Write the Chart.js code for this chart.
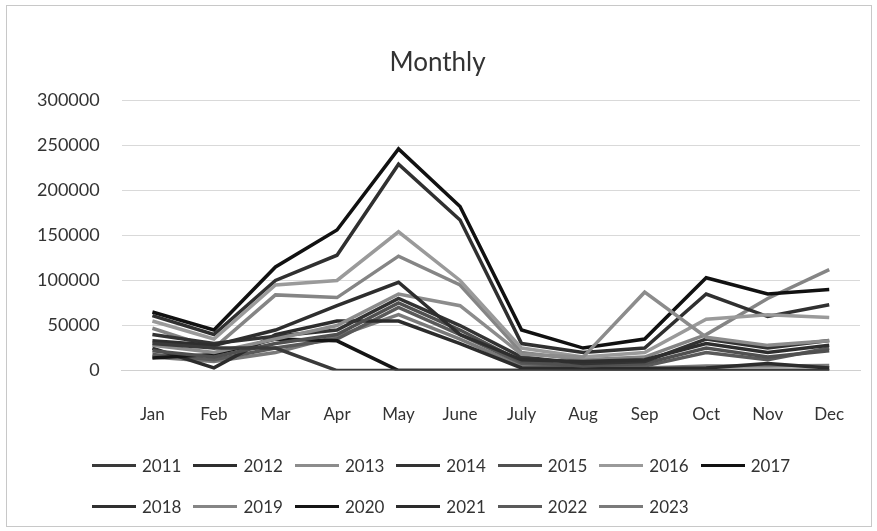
<!DOCTYPE html>
<html>
<head>
<meta charset="utf-8">
<script src="https://cdn.jsdelivr.net/npm/chart.js@4/dist/chart.umd.min.js"></script>
<style>
  html, body { margin: 0; padding: 0; background: #fff; }
  #wrap { position: relative; width: 877px; height: 531px; }
  #frame {
    position: absolute; left: 6px; top: 5px; width: 864px; height: 520px;
    border: 1px solid #c8c8c8;
  }
  #legend {
    position: absolute; left: 92px; top: 445px; width: 730px;
    display: flex; flex-wrap: wrap;
    font-family: Lato, "DejaVu Sans", sans-serif; font-size: 17px; color: #333;
  }
  .item { display: flex; align-items: center; height: 41px; margin-right: 12px; }
  .swatch { width: 44px; height: 3px; margin-right: 6px; }
</style>
</head>
<body>
<div id="wrap">
  <div id="frame"></div>
  <canvas id="chart" width="877" height="531"></canvas>
  <div id="legend"></div>
</div>
<script>
// Month categories on the x axis.
const months = ['Jan', 'Feb', 'Mar', 'Apr', 'May', 'June', 'July', 'Aug', 'Sep', 'Oct', 'Nov', 'Dec'];

// One series per year.
const years = ['2011', '2012', '2013', '2014', '2015', '2016', '2017', '2018', '2019', '2020', '2021', '2022', '2023'];

const v2011 = [30000, 25000, 25000, 0, 0, 0, 0, 0, 0, 0, 0, 0];
const v2012 = [33000, 28000, 45000, 72000, 98000, 40000, 12000, 10000, 12000, 30000, 20000, 28000];
const v2013 = [28000, 20000, 35000, 50000, 85000, 72000, 18000, 15000, 87000, 37000, 28000, 33000];
const v2014 = [40000, 30000, 38000, 45000, 80000, 50000, 15000, 8000, 10000, 35000, 25000, 33500];
const v2015 = [22000, 15000, 30000, 40000, 75000, 45000, 10000, 5000, 8000, 25000, 15000, 22000];
const v2016 = [55000, 35000, 95000, 100000, 154000, 100000, 25000, 15000, 20000, 57000, 62000, 59000];
const v2017 = [65000, 45000, 115000, 156000, 246000, 182000, 45000, 25000, 35000, 103000, 85000, 90000];
const v2018 = [61000, 40000, 100000, 128000, 229000, 167000, 30000, 20000, 25000, 85000, 60000, 73000];
const v2019 = [47000, 25000, 84000, 81000, 127000, 95000, 20000, 12000, 15000, 40000, 80000, 112000];
const v2020 = [14000, 18000, 35000, 33000, 0, 0, 0, 0, 0, 0, 0, 0];
const v2021 = [25000, 3000, 40000, 55000, 55000, 30000, 3000, 2000, 2000, 3000, 8000, 3000];
const v2022 = [18000, 12000, 25000, 35000, 70000, 40000, 8000, 5000, 5000, 20000, 12000, 25000];
const v2023 = [15000, 10000, 20000, 38000, 62000, 35000, 5000, 3000, 3000, 5000, 5000, 5600];

const seriesValues = [v2011, v2012, v2013, v2014, v2015, v2016, v2017, v2018, v2019, v2020, v2021, v2022, v2023];

// Y axis ticks.
const yTicks = [0, 50000, 100000, 150000, 200000, 250000, 300000];

// Grey shades, one per year.
const lineColors = ['#3a3a3a', '#2e2e2e', '#8c8c8c', '#333333', '#505050', '#9a9a9a', '#111111',
  '#303030', '#858585', '#151515', '#2c2c2c', '#5a5a5a', '#7a7a7a'];

const fontFamily = 'Lato, "DejaVu Sans", sans-serif';

const datasets = years.map((year, i) => ({
  label: year,
  data: seriesValues[i],
  borderColor: lineColors[i],
  backgroundColor: lineColors[i],
  borderWidth: 3.5,
  pointRadius: 0,
  tension: 0,
  fill: false
}));

const chart = new Chart(document.getElementById('chart'), {
  type: 'line',
  data: { labels: months, datasets: datasets },
  options: {
    responsive: false,
    animation: false,
    layout: { padding: { left: 15, right: 17, top: 0, bottom: 80 } },
    plugins: {
      legend: { display: false },
      tooltip: { enabled: false },
      title: {
        display: true,
        text: 'Monthly',
        color: '#333',
        font: { family: fontFamily, size: 26, weight: 'normal', lineHeight: 1.2 },
        padding: { top: 47, bottom: 22 }
      }
    },
    scales: {
      x: {
        offset: true,
        grid: { display: false },
        border: { color: '#d0d0d0' },
        ticks: {
          color: '#333',
          padding: 26,
          font: { family: fontFamily, size: 17 }
        }
      },
      y: {
        min: 0,
        max: 300000,
        afterBuildTicks: (scale) => {
          scale.ticks = yTicks.map((v) => ({ value: v }));
        },
        grid: { color: '#d9d9d9', drawTicks: false },
        border: { display: false },
        ticks: {
          color: '#333',
          padding: 22,
          font: { family: fontFamily, size: 18 },
          callback: (value) => String(value)
        }
      }
    }
  }
});

// Legend built from the chart's datasets.
const legend = document.getElementById('legend');
chart.data.datasets.forEach((ds) => {
  const item = document.createElement('div');
  item.className = 'item';
  const swatch = document.createElement('span');
  swatch.className = 'swatch';
  swatch.style.background = ds.borderColor;
  const text = document.createElement('span');
  text.textContent = ds.label;
  item.appendChild(swatch);
  item.appendChild(text);
  legend.appendChild(item);
});
</script>
</body>
</html>
